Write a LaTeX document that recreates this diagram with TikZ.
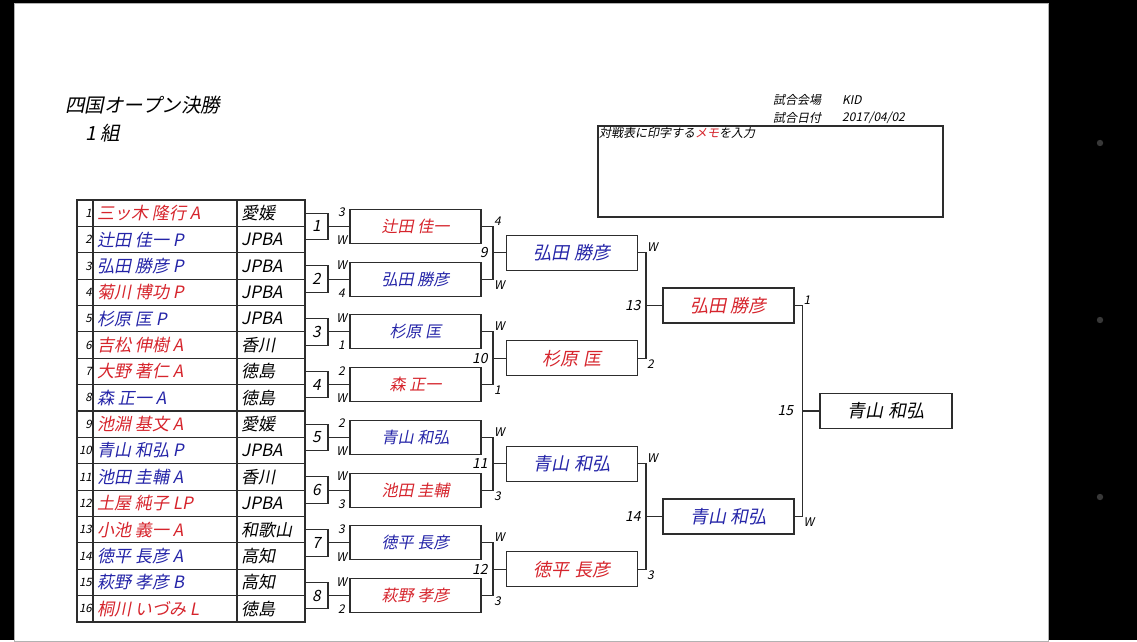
\documentclass[tikz,border=0pt]{standalone}
\usepackage{fontspec}
\setmainfont{Noto Sans CJK JP}[FakeSlant=0.2]
\usetikzlibrary{calc}
\definecolor{namered}{RGB}{214,36,44}
\definecolor{nameblue}{RGB}{36,36,168}
\definecolor{rulegray}{RGB}{45,45,45}
\begin{document}
\begin{tikzpicture}[x=1pt,y=-1pt,
  tbl/.style={draw=rulegray,line width=1.1pt},
  wire/.style={draw=rulegray,line width=1.1pt},
  matchbox/.style={draw=rulegray,line width=1.1pt,minimum width=23pt,minimum height=26.375pt,inner sep=0pt,font=\fontsize{15.5}{15.5}\selectfont},
  namebox/.style={draw=rulegray,line width=1.1pt,minimum width=131pt,minimum height=34pt,inner sep=0pt,font=\fontsize{16}{16}\selectfont},
  bigbox/.style={namebox,minimum height=35pt,font=\fontsize{18}{18}\selectfont},
  seed/.style={anchor=east,inner sep=0pt,font=\fontsize{11.5}{11.5}\selectfont},
  player/.style={anchor=west,inner sep=0pt,font=\fontsize{17}{17}\selectfont},
  pref/.style={anchor=west,inner sep=0pt,font=\fontsize{17}{17}\selectfont},
  score/.style={inner sep=1pt,font=\fontsize{12}{12}\selectfont},
  roundno/.style={anchor=east,inner sep=0pt,xshift=-5pt,font=\fontsize{14}{14}\selectfont},
  hdr/.style={anchor=west,inner sep=0pt,font=\fontsize{12}{12}\selectfont}]
\fill[black] (0,0) rectangle (1137,640);
\filldraw[fill=white,draw=black!30] (14,3) rectangle (1048,641);
\fill[black!78] (1100,143) circle (3.2);
\fill[black!78] (1100,320) circle (3.2);
\fill[black!78] (1100,497) circle (3.2);
\node[anchor=west,inner sep=0pt,font=\fontsize{19.5}{19.5}\selectfont] (title) at (65,105) {四国オープン決勝};
\node[anchor=west,inner sep=0pt,font=\fontsize{19.5}{19.5}\selectfont] (group) at (85,133) {1 組};
\node[hdr] (venue) at (773,100) {試合会場};
\node[hdr] (venueval) at (842,100) {KID};
\node[hdr] (date) at (773,118) {試合日付};
\node[hdr] (dateval) at (842,118) {2017/04/02};
\node[draw=rulegray,line width=1.1pt,minimum width=345pt,minimum height=91pt,inner sep=0pt] (memo) at (770.5,171.5) {};
\node[anchor=north west,inner sep=1.5pt,font=\fontsize{12}{12}\selectfont] (memotxt) at (memo.north west) {対戦表に印字する\textcolor{namered}{メモ}を入力};
\draw[tbl] (77,200) rectangle (305,622);
\draw[tbl] (93,200) -- (93,622) (237,200) -- (237,622);
\draw[tbl] (77,226.375) -- (305,226.375) (77,252.75) -- (305,252.75) (77,279.125) -- (305,279.125) (77,305.5) -- (305,305.5) (77,331.875) -- (305,331.875);
\draw[tbl] (77,358.25) -- (305,358.25) (77,384.625) -- (305,384.625) (77,411) -- (305,411) (77,437.375) -- (305,437.375) (77,463.75) -- (305,463.75);
\draw[tbl] (77,490.125) -- (305,490.125) (77,516.5) -- (305,516.5) (77,542.875) -- (305,542.875) (77,569.25) -- (305,569.25) (77,595.625) -- (305,595.625);
\node[seed] (n1) at (92,213.19) {1}; \node[player,text=namered] (p1) at (97,213.19) {三ッ木 隆行 A}; \node[pref] (a1) at (241,213.19) {愛媛};
\node[seed] (n2) at (92,239.56) {2}; \node[player,text=nameblue] (p2) at (97,239.56) {辻田 佳一 P}; \node[pref] (a2) at (241,239.56) {JPBA};
\node[seed] (n3) at (92,265.94) {3}; \node[player,text=nameblue] (p3) at (97,265.94) {弘田 勝彦 P}; \node[pref] (a3) at (241,265.94) {JPBA};
\node[seed] (n4) at (92,292.31) {4}; \node[player,text=namered] (p4) at (97,292.31) {菊川 博功 P}; \node[pref] (a4) at (241,292.31) {JPBA};
\node[seed] (n5) at (92,318.69) {5}; \node[player,text=nameblue] (p5) at (97,318.69) {杉原 匡 P}; \node[pref] (a5) at (241,318.69) {JPBA};
\node[seed] (n6) at (92,345.06) {6}; \node[player,text=namered] (p6) at (97,345.06) {吉松 伸樹 A}; \node[pref] (a6) at (241,345.06) {香川};
\node[seed] (n7) at (92,371.44) {7}; \node[player,text=namered] (p7) at (97,371.44) {大野 著仁 A}; \node[pref] (a7) at (241,371.44) {徳島};
\node[seed] (n8) at (92,397.81) {8}; \node[player,text=nameblue] (p8) at (97,397.81) {森 正一 A}; \node[pref] (a8) at (241,397.81) {徳島};
\node[seed] (n9) at (92,424.19) {9}; \node[player,text=namered] (p9) at (97,424.19) {池淵 基文 A}; \node[pref] (a9) at (241,424.19) {愛媛};
\node[seed] (n10) at (92,450.56) {10}; \node[player,text=nameblue] (p10) at (97,450.56) {青山 和弘 P}; \node[pref] (a10) at (241,450.56) {JPBA};
\node[seed] (n11) at (92,476.94) {11}; \node[player,text=nameblue] (p11) at (97,476.94) {池田 圭輔 A}; \node[pref] (a11) at (241,476.94) {香川};
\node[seed] (n12) at (92,503.31) {12}; \node[player,text=namered] (p12) at (97,503.31) {土屋 純子 LP}; \node[pref] (a12) at (241,503.31) {JPBA};
\node[seed] (n13) at (92,529.69) {13}; \node[player,text=namered] (p13) at (97,529.69) {小池 義一 A}; \node[pref] (a13) at (241,529.69) {和歌山};
\node[seed] (n14) at (92,556.06) {14}; \node[player,text=nameblue] (p14) at (97,556.06) {徳平 長彦 A}; \node[pref] (a14) at (241,556.06) {高知};
\node[seed] (n15) at (92,582.44) {15}; \node[player,text=nameblue] (p15) at (97,582.44) {萩野 孝彦 B}; \node[pref] (a15) at (241,582.44) {高知};
\node[seed] (n16) at (92,608.81) {16}; \node[player,text=namered] (p16) at (97,608.81) {桐川 いづみ L}; \node[pref] (a16) at (241,608.81) {徳島};
\node[matchbox] (m1) at (316.5,226.375) {1};
\node[matchbox] (m2) at (316.5,279.125) {2};
\node[matchbox] (m3) at (316.5,331.875) {3};
\node[matchbox] (m4) at (316.5,384.625) {4};
\node[matchbox] (m5) at (316.5,437.375) {5};
\node[matchbox] (m6) at (316.5,490.125) {6};
\node[matchbox] (m7) at (316.5,542.875) {7};
\node[matchbox] (m8) at (316.5,595.625) {8};
\node[namebox,text=namered] (r1) at (415.5,226.375) {辻田 佳一};
\node[namebox,text=nameblue] (r2) at (415.5,279.125) {弘田 勝彦};
\node[namebox,text=nameblue] (r3) at (415.5,331.875) {杉原 匡};
\node[namebox,text=namered] (r4) at (415.5,384.625) {森 正一};
\node[namebox,text=nameblue] (r5) at (415.5,437.375) {青山 和弘};
\node[namebox,text=namered] (r6) at (415.5,490.125) {池田 圭輔};
\node[namebox,text=nameblue] (r7) at (415.5,542.875) {徳平 長彦};
\node[namebox,text=namered] (r8) at (415.5,595.625) {萩野 孝彦};
\draw[wire] (m1) -- (r1); \draw[wire] (m2) -- (r2); \draw[wire] (m3) -- (r3); \draw[wire] (m4) -- (r4);
\draw[wire] (m5) -- (r5); \draw[wire] (m6) -- (r6); \draw[wire] (m7) -- (r7); \draw[wire] (m8) -- (r8);
\node[score] (sc1a) at ($(m1.north east)+(13,0)$) {3}; \node[score] (sc1b) at ($(m1.south east)+(13,0)$) {W};
\node[score] (sc2a) at ($(m2.north east)+(13,0)$) {W}; \node[score] (sc2b) at ($(m2.south east)+(13,0)$) {4};
\node[score] (sc3a) at ($(m3.north east)+(13,0)$) {W}; \node[score] (sc3b) at ($(m3.south east)+(13,0)$) {1};
\node[score] (sc4a) at ($(m4.north east)+(13,0)$) {2}; \node[score] (sc4b) at ($(m4.south east)+(13,0)$) {W};
\node[score] (sc5a) at ($(m5.north east)+(13,0)$) {2}; \node[score] (sc5b) at ($(m5.south east)+(13,0)$) {W};
\node[score] (sc6a) at ($(m6.north east)+(13,0)$) {W}; \node[score] (sc6b) at ($(m6.south east)+(13,0)$) {3};
\node[score] (sc7a) at ($(m7.north east)+(13,0)$) {3}; \node[score] (sc7b) at ($(m7.south east)+(13,0)$) {W};
\node[score] (sc8a) at ($(m8.north east)+(13,0)$) {W}; \node[score] (sc8b) at ($(m8.south east)+(13,0)$) {2};
\node[bigbox,text=nameblue] (s9) at (572,252.75) {弘田 勝彦};
\node[bigbox,text=namered] (s10) at (572,358.25) {杉原 匡};
\node[bigbox,text=nameblue] (s11) at (572,463.75) {青山 和弘};
\node[bigbox,text=namered] (s12) at (572,569.25) {徳平 長彦};
\coordinate (j9) at ($(s9.west)+(-13,0)$);
\coordinate (j10) at ($(s10.west)+(-13,0)$);
\coordinate (j11) at ($(s11.west)+(-13,0)$);
\coordinate (j12) at ($(s12.west)+(-13,0)$);
\draw[wire] (r1.east) -| (j9) |- (r2.east); \draw[wire] (j9) -- (s9.west);
\draw[wire] (r3.east) -| (j10) |- (r4.east); \draw[wire] (j10) -- (s10.west);
\draw[wire] (r5.east) -| (j11) |- (r6.east); \draw[wire] (j11) -- (s11.west);
\draw[wire] (r7.east) -| (j12) |- (r8.east); \draw[wire] (j12) -- (s12.west);
\node[roundno] (k9) at (j9) {9}; \node[roundno] (k10) at (j10) {10};
\node[roundno] (k11) at (j11) {11}; \node[roundno] (k12) at (j12) {12};
\node[score,above right] (sc9a) at (r1.east -| j9) {4}; \node[score,below right] (sc9b) at (r2.east -| j9) {W};
\node[score,above right] (sc10a) at (r3.east -| j10) {W}; \node[score,below right] (sc10b) at (r4.east -| j10) {1};
\node[score,above right] (sc11a) at (r5.east -| j11) {W}; \node[score,below right] (sc11b) at (r6.east -| j11) {3};
\node[score,above right] (sc12a) at (r7.east -| j12) {W}; \node[score,below right] (sc12b) at (r8.east -| j12) {3};
\node[bigbox,text=namered] (t13) at (728.5,305.5) {弘田 勝彦};
\node[bigbox,text=nameblue] (t14) at (728.5,516.5) {青山 和弘};
\coordinate (j13) at ($(t13.west)+(-16.5,0)$);
\coordinate (j14) at ($(t14.west)+(-16.5,0)$);
\draw[wire] (s9.east) -| (j13) |- (s10.east); \draw[wire] (j13) -- (t13.west);
\draw[wire] (s11.east) -| (j14) |- (s12.east); \draw[wire] (j14) -- (t14.west);
\node[roundno] (k13) at (j13) {13}; \node[roundno] (k14) at (j14) {14};
\node[score,above right] (sc13a) at (s9.east -| j13) {W}; \node[score,below right] (sc13b) at (s10.east -| j13) {2};
\node[score,above right] (sc14a) at (s11.east -| j14) {W}; \node[score,below right] (sc14b) at (s12.east -| j14) {3};
\node[bigbox,minimum width=132pt] (f15) at (886,411) {青山 和弘};
\coordinate (j15) at ($(f15.west)+(-17,0)$);
\draw[wire] (t13.east) -| (j15) |- (t14.east); \draw[wire] (j15) -- (f15.west);
\node[roundno,xshift=-4pt] (k15) at (j15) {15};
\node[score,above right] (sc15a) at (t13.east -| j15) {1}; \node[score,below right] (sc15b) at (t14.east -| j15) {W};
\end{tikzpicture}
\end{document}
